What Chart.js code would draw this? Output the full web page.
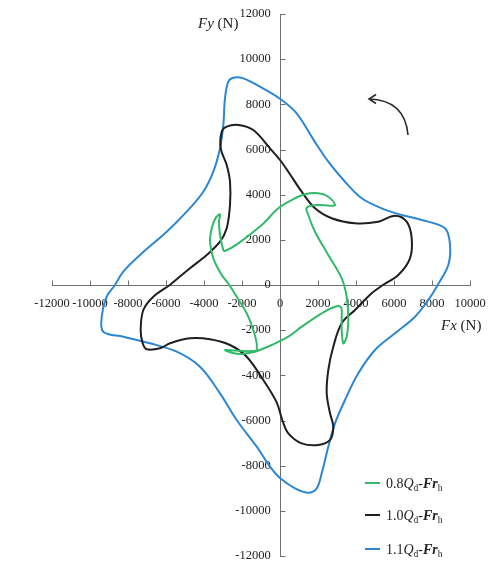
<!DOCTYPE html>
<html>
<head>
<meta charset="utf-8">
<script src="https://cdn.jsdelivr.net/npm/chart.js@4.4.1/dist/chart.umd.min.js"></script>
<style>
  html, body { margin: 0; padding: 0; background: #fff; }
  #wrap { width: 489px; height: 565px; }
</style>
</head>
<body>
<div id="wrap"><canvas id="c" width="489" height="565"></canvas></div>
<script>
// Axis tick values (N)
const xTickValues = [-12000, -10000, -8000, -6000, -4000, -2000, 0, 2000, 4000, 6000, 8000, 10000];
const yTickValues = [-12000, -10000, -8000, -6000, -4000, -2000, 0, 2000, 4000, 6000, 8000, 10000, 12000];

// Series: flow coefficient labels and colours
const flowRates = ['0.8', '1.0', '1.1'];
const seriesColors = ['#33b96a', '#1f1f1f', '#2c87d3'];

// 0.8Qd radial force locus
const fx08 = [-1226, -1226, -1405, -1753, -2279, -2750, -3068, -3510, -3684, -3595, -3400, -3158, -3210, -3158, -2984, -2895,
  -2195, -963, -89, 616, 1316, 2016, 2542, 2895, 2632, 2016, 1405, 1489, 1842, 2542, 3247, 3509, 3595, 3509, 3332,
  3247, 3247, 3210, 2895, 2195, 1142, 437, -437, -1316, -2016, -2542, -2895, -2400, -1800, -1226];
const fy08 = [-2909, -2582, -1993, -1253, -518, 100, 443, 1182, 1918, 2511, 2950, 3131, 2803, 2214, 1550, 1506,
  1846, 2657, 3396, 3764, 4016, 4060, 3910, 3542, 3511, 3542, 3424, 3100, 2360, 1328, 297, -518, -1550, -2289, -2582,
  -1993, -1403, -988, -961, -1253, -1846, -2289, -2657, -2953, -3055, -2997, -2878, -2900, -2930, -2909];

// 1.0Qd radial force locus
const fx10 = [-5800, -4737, -3858, -3158, -2805, -2632, -2632, -2805, -3121, -3068, -2805, -2195, -1405, -526, 0, 437,
  1142, 1842, 2721, 3947, 5173, 6052, 6668, 6931, 6842, 6226, 5420, 4826, 3947, 3247, 2805, 2542, 2458, 2632, 2805,
  2632, 2016, 1142, 437, 130, -174, -879, -1753, -2632, -3684, -4737, -5789, -6316, -7016, -7227, -7333, -7193, -6668, -5800];
const fy10 = [0, 739, 1328, 1918, 2511, 3542, 4574, 5314, 6053, 6788, 7010, 7085, 6863, 6050, 5535, 5017,
  4131, 3396, 2954, 2732, 2803, 3069, 2803, 2068, 1182, 443, 0, -368, -1107, -1696, -2732, -3764, -4796, -5681, -6275,
  -6863, -7085, -7010, -6567, -6000, -5200, -4207, -3175, -2657, -2405, -2360, -2582, -2803, -2847, -2582, -1993, -1107, -518, 0];

// 1.1Qd radial force locus
const fx11 = [-8684, -8247, -7368, -5964, -4911, -4036, -3510, -3158, -2984, -2895, -2721, -2458, -1932, -1053, 0, 877,
  1800, 2542, 3421, 4300, 5352, 6405, 7458, 8684, 8947, 8858, 8300, 7805, 7105, 6052, 5000, 4121, 3421, 2895, 2542,
  2195, 1932, 1489, 789, 0, -526, -1226, -2279, -3158, -4211, -5437, -6842, -8247, -9300, -9384, -9121, -8684];
const fy11 = [0, 589, 1328, 2360, 3246, 4131, 5017, 6053, 7085, 8267, 9003, 9180, 9150, 8781, 8250, 7603,
  6380, 5460, 4574, 3839, 3396, 3100, 2878, 2509, 1771, 886, 0, -664, -1403, -2140, -2878, -3910, -5092, -6124, -7160,
  -8338, -9003, -9197, -9003, -8550, -8045, -7160, -5978, -4796, -3618, -2953, -2582, -2289, -2068, -1403, -518, 0];

const seriesX = [fx08, fx10, fx11];
const seriesY = [fy08, fy10, fy11];

// Rotation-direction arrow, in force units: start, control, tip
const arrowPath = [[6737, 6642], [6579, 8192], [4684, 8236]];

const SERIF = '"Liberation Serif", "Times New Roman", serif';

const datasets = flowRates.map((q, i) => ({
  label: q + 'Qd-Frh',
  data: seriesX[i].map((x, k) => ({ x: x, y: seriesY[i][k] })),
  showLine: true,
  borderColor: seriesColors[i],
  backgroundColor: seriesColors[i],
  borderWidth: 2,
  pointRadius: 0,
  tension: 0.35,
  fill: false
}));

// Draws a run of text pieces with individual styles, left to right
function drawRich(ctx, parts, x, y) {
  let cx = x;
  parts.forEach(p => {
    ctx.font = (p.style || 'normal') + ' ' + (p.weight || 'normal') + ' ' + p.size + 'px ' + SERIF;
    ctx.fillText(p.text, cx, y + (p.dy || 0));
    cx += ctx.measureText(p.text).width;
  });
}

// Inward tick marks on both axes
const innerTicks = {
  id: 'innerTicks',
  beforeDatasetsDraw(chart) {
    const { ctx, scales: { x, y } } = chart;
    const x0 = Math.round(x.getPixelForValue(0)) + 0.5;
    const y0 = Math.round(y.getPixelForValue(0)) + 0.5;
    ctx.save();
    ctx.strokeStyle = '#707070';
    ctx.lineWidth = 1;
    ctx.beginPath();
    x.ticks.forEach(t => {
      const p = Math.round(x.getPixelForValue(t.value)) + 0.5;
      ctx.moveTo(p, y0); ctx.lineTo(p, y0 - 5);
    });
    y.ticks.forEach(t => {
      const p = Math.round(y.getPixelForValue(t.value)) + 0.5;
      ctx.moveTo(x0, p); ctx.lineTo(x0 + 5, p);
    });
    ctx.stroke();
    ctx.restore();
  }
};

// Axis titles, legend and rotation arrow
const annotations = {
  id: 'annotations',
  afterDraw(chart) {
    const { ctx, scales: { x, y }, chartArea } = chart;
    const x0 = x.getPixelForValue(0);
    const y0 = y.getPixelForValue(0);
    ctx.save();
    ctx.fillStyle = '#222';
    ctx.textBaseline = 'alphabetic';
    ctx.textAlign = 'left';

    drawRich(ctx, [
      { text: 'Fy', style: 'italic', size: 15 },
      { text: ' (N)', size: 15 }
    ], x0 - 82, chartArea.top + 14);

    drawRich(ctx, [
      { text: 'Fx', style: 'italic', size: 15 },
      { text: ' (N)', size: 15 }
    ], chartArea.right - 29, y0 + 45);

    // legend
    const lx = chartArea.right - 105;
    const rows = [chartArea.bottom - 73, chartArea.bottom - 41, chartArea.bottom - 7];
    flowRates.forEach((q, i) => {
      const ry = rows[i];
      ctx.strokeStyle = seriesColors[i];
      ctx.lineWidth = 2;
      ctx.beginPath();
      ctx.moveTo(lx, ry); ctx.lineTo(lx + 15, ry);
      ctx.stroke();
      drawRich(ctx, [
        { text: q, size: 14 },
        { text: 'Q', style: 'italic', size: 14 },
        { text: 'd', size: 9.5, dy: 3 },
        { text: '-', size: 14 },
        { text: 'Fr', style: 'italic', weight: 'bold', size: 14 },
        { text: 'h', size: 9.5, dy: 3 }
      ], lx + 21, ry + 5);
    });

    // curved arrow showing the sense of rotation
    const pts = arrowPath.map(p => [x.getPixelForValue(p[0]), y.getPixelForValue(p[1])]);
    ctx.strokeStyle = '#2a2a2a';
    ctx.lineWidth = 1.6;
    ctx.beginPath();
    ctx.moveTo(pts[0][0], pts[0][1]);
    ctx.quadraticCurveTo(pts[1][0], pts[1][1], pts[2][0], pts[2][1]);
    ctx.stroke();
    const tip = pts[2];
    ctx.beginPath();
    ctx.moveTo(tip[0] + 7, tip[1] - 4.5);
    ctx.lineTo(tip[0], tip[1]);
    ctx.lineTo(tip[0] + 7, tip[1] + 4.5);
    ctx.stroke();
    ctx.restore();
  }
};

const tickFont = { family: SERIF, size: 12.5 };

// Axes cross at the origin, so they must not reserve any margin for their labels
const noMargin = s => { s.paddingLeft = 0; s.paddingRight = 0; s.paddingTop = 0; s.paddingBottom = 0; };

new Chart(document.getElementById('c'), {
  type: 'scatter',
  data: { datasets: datasets },
  options: {
    responsive: false,
    animation: false,
    events: [],
    layout: { padding: { left: 52, right: 19, top: 14, bottom: 9 } },
    plugins: { legend: { display: false }, tooltip: { enabled: false } },
    scales: {
      x: {
        type: 'linear',
        position: { y: 0 },
        min: -12000, max: 10000,
        afterBuildTicks: s => { s.ticks = xTickValues.map(v => ({ value: v })); },
        afterFit: noMargin,
        grid: { drawOnChartArea: false, drawTicks: false },
        border: { display: true, color: '#707070', width: 1 },
        ticks: { font: tickFont, color: '#222', padding: 11, maxRotation: 0, autoSkip: false,
          callback: v => String(v) }
      },
      y: {
        type: 'linear',
        position: { x: 0 },
        min: -12000, max: 12000,
        afterBuildTicks: s => { s.ticks = yTickValues.map(v => ({ value: v })); },
        afterFit: noMargin,
        grid: { drawOnChartArea: false, drawTicks: false },
        border: { display: true, color: '#707070', width: 1 },
        ticks: { font: tickFont, color: '#222', padding: 9, autoSkip: false,
          callback: v => String(v) + '\u2002\u0020' }
      }
    }
  },
  plugins: [innerTicks, annotations]
});
</script>
</body>
</html>
